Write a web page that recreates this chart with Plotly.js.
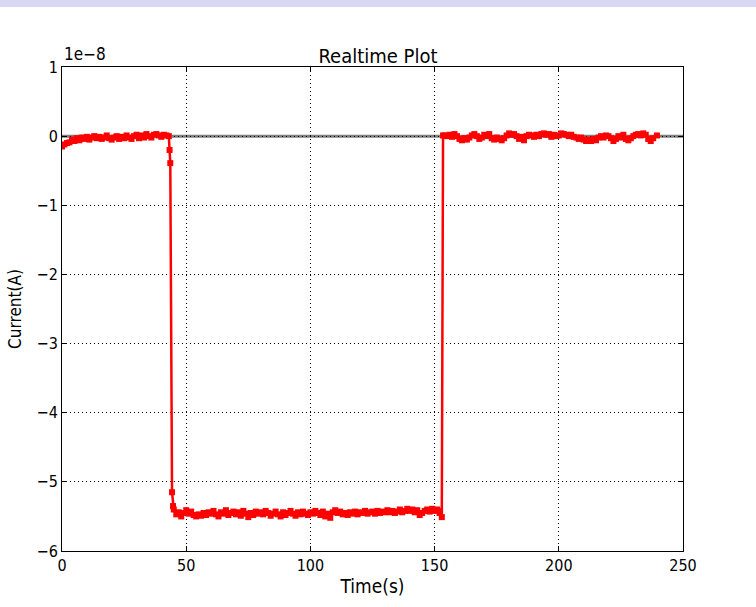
<!DOCTYPE html>
<html>
<head>
<meta charset="utf-8">
<script src="https://cdn.plot.ly/plotly-3.0.1.min.js"></script>
<style>html,body{margin:0;padding:0;background:#fff;}#chart{width:756px;height:607px;}</style>
</head>
<body>
<div id="chart"></div>
<script>
// Time (s)
const timeA = [0,1,2,3,4,5,6,7,8,9,10,11,12,13,14,15,16,17,18,19,20,21,22,23,24,25,26,27,28,29,30,31,32,33,34,35,36,37,38,39,40,41,42,43,43.3,43.6,44.3,44.7,45,46,47,48,49,50,51,52,53,54,55,56,57,58,59,60,61,62,63,64,65,66,67,68,69,70,71,72,73,74,75,76,77,78,79,80,81,82,83,84,85,86,87,88,89,90,91,92,93,94,95,96,97,98,99,100,101,102,103,104,105,106,107,108,109,110,111,112,113,114,115,116,117,118,119,120,121,122,123,124,125,126,127,128,129,130,131,132,133,134,135,136,137,138,139,140,141,142,143,144,145,146,147,148,149,150,151,152,152.2,152.9,153.4,154,155,156,157,158,159,160,161,162,163,164,165,166,167,168,169,170,171,172,173,174,175,176,177,178,179,180,181,182,183,184,185,186,187,188,189,190,191,192,193,194,195,196,197,198,199,200,201,202,203,204,205,206,207,208,209,210,211,212,213,214,215,216,217,218,219,220,221,222,223,224,225,226,227,228,229,230,231,232,233,234,235,236,237,238,239.5];
// Current (units of 1e-8 A)
const currentA = [-0.15,-0.12,-0.10,-0.09,-0.05,-0.07,-0.03,-0.06,-0.02,-0.04,-0.01,-0.05,-0.02,0.00,-0.03,-0.01,-0.04,-0.02,0.01,-0.03,-0.05,-0.02,0.00,-0.04,-0.01,-0.03,0.01,-0.02,-0.04,0.00,0.02,-0.03,0.01,-0.02,0.03,0.00,-0.02,0.02,0.03,0.01,-0.01,0.02,0.01,0.00,-0.20,-0.39,-5.15,-5.35,-5.40,-5.47,-5.44,-5.50,-5.45,-5.41,-5.46,-5.43,-5.48,-5.50,-5.47,-5.49,-5.45,-5.48,-5.44,-5.46,-5.42,-5.47,-5.50,-5.44,-5.46,-5.41,-5.48,-5.45,-5.43,-5.47,-5.44,-5.49,-5.42,-5.46,-5.51,-5.45,-5.48,-5.43,-5.46,-5.44,-5.47,-5.42,-5.45,-5.49,-5.46,-5.43,-5.47,-5.50,-5.44,-5.48,-5.45,-5.42,-5.46,-5.49,-5.44,-5.47,-5.43,-5.46,-5.48,-5.44,-5.46,-5.42,-5.45,-5.48,-5.43,-5.50,-5.46,-5.52,-5.44,-5.41,-5.45,-5.43,-5.47,-5.45,-5.48,-5.44,-5.46,-5.43,-5.47,-5.44,-5.45,-5.42,-5.46,-5.44,-5.43,-5.46,-5.42,-5.45,-5.43,-5.44,-5.41,-5.44,-5.42,-5.45,-5.43,-5.40,-5.44,-5.42,-5.39,-5.42,-5.40,-5.44,-5.41,-5.48,-5.45,-5.42,-5.40,-5.43,-5.39,-5.42,-5.40,-5.45,-5.42,-5.51,0.01,0.01,0.00,0.02,-0.01,0.03,0.00,-0.04,-0.06,-0.03,-0.05,-0.02,0.01,0.03,0.00,-0.04,-0.02,0.02,0.00,0.03,-0.03,-0.05,-0.02,-0.04,-0.06,-0.03,0.01,0.04,0.02,0.03,0.00,-0.04,-0.01,-0.06,0.00,0.02,0.01,-0.01,0.02,0.00,0.03,0.04,0.02,0.03,-0.01,0.02,0.00,0.01,0.04,0.03,0.02,0.00,0.02,-0.01,-0.02,-0.04,-0.02,-0.05,-0.07,-0.05,-0.07,-0.04,-0.06,-0.02,0.00,-0.02,0.01,0.00,-0.03,-0.07,-0.04,0.00,-0.02,0.02,-0.04,-0.06,-0.03,0.00,0.02,0.03,0.01,0.04,0.02,-0.04,-0.07,-0.03,0.01];
const xTicks = [0,50,100,150,200,250];
const yTicks = [-6,-5,-4,-3,-2,-1,0,1];
const yTickText = ['\u22126','\u22125','\u22124','\u22123','\u22122','\u22121','0','1'];

const FONT = 'DejaVu Sans Condensed, DejaVu Sans, sans-serif';

const trace = {
  x: timeA, y: currentA, type: 'scatter', mode: 'lines+markers',
  line: {color: '#ff0000', width: 2.5},
  marker: {color: '#ff0000', symbol: 'square', size: 6, line: {width: 0}},
  showlegend: false, hoverinfo: 'skip'
};

const axisCommon = {
  showline: true, linecolor: '#000', linewidth: 1, mirror: 'allticks',
  ticks: 'inside', ticklen: 5, tickwidth: 1, tickcolor: '#000',
  showgrid: true, gridcolor: '#000', gridwidth: 1, griddash: '1px,3px',
  zeroline: false, tickfont: {family: FONT, size: 16, color: '#000'}
};

const layout = {
  width: 756, height: 607,
  margin: {l: 62, r: 73, t: 67, b: 56, pad: 0},
  paper_bgcolor: '#fff', plot_bgcolor: '#fff',
  font: {family: FONT, color: '#000'},
  title: {text: 'Realtime Plot', font: {family: FONT, size: 20, color: '#000'},
          x: 0.5, xanchor: 'center', y: 1 - 63/607, yanchor: 'bottom', yref: 'container'},
  xaxis: Object.assign({}, axisCommon, {
    range: [0, 250], tickvals: xTicks, ticktext: xTicks.map(String),
    title: {text: 'Time(s)', font: {family: FONT, size: 19, color: '#000'}, standoff: 5}
  }),
  yaxis: Object.assign({}, axisCommon, {
    range: [-6, 1], tickvals: yTicks, ticktext: yTickText,
    title: {text: 'Current(A)', font: {family: FONT, size: 17, color: '#000'}, standoff: 10}
  }),
  shapes: [
    {type: 'rect', xref: 'paper', yref: 'paper', x0: -0.2, x1: 1.3,
     y0: 1 + 60/484, y1: 1 + 70/484, fillcolor: '#d8d8f5', line: {width: 0}, layer: 'below'},
    {type: 'line', xref: 'paper', yref: 'y', x0: 0, x1: 1, y0: 0, y1: 0,
     line: {color: '#808080', width: 3}, layer: 'below'}
  ],
  annotations: [
    {text: '1e\u22128', xref: 'paper', yref: 'paper', x: 0, y: 1, xanchor: 'left', yanchor: 'bottom',
     yshift: 1, showarrow: false, font: {family: FONT, size: 17, color: '#000'}}
  ]
};

Plotly.newPlot('chart', [trace], layout, {staticPlot: true, displayModeBar: false});
</script>
</body>
</html>
